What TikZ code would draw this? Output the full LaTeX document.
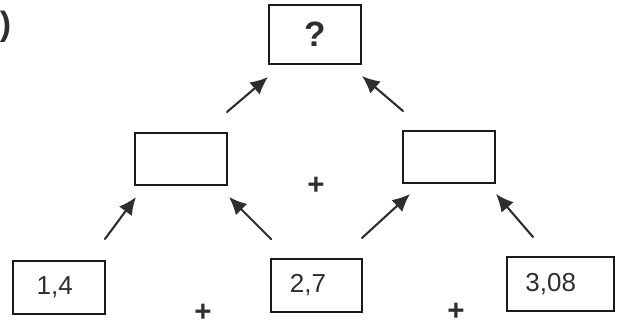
\documentclass[tikz,border=0pt]{standalone}
\usepackage{fontspec}
\setmainfont{Liberation Sans}
\usepackage{tikz}
\usetikzlibrary{arrows.meta,positioning,calc}
\tikzset{
  sumarrow/.style={-{Latex[length=4.4mm,width=4mm]}, line width=1.5pt,
    draw=SumGray, line cap=round},
  plussign/.style={font=\fontsize{21}{23}\selectfont\bfseries, text=SumGray}
}
\definecolor{SumGray}{HTML}{2E2E2E}
\definecolor{SumInk}{HTML}{1A1A1A}

\begin{document}
\begin{tikzpicture}[
  x=0.025cm, y=-0.025cm,
  font=\fontsize{18.5}{20}\selectfont,
  box/.style={draw=SumInk, line width=1.4pt, inner sep=0pt, minimum width=2.3cm, minimum height=1.3cm, text=SumGray}
]
\useasboundingbox (0,0) rectangle (633,327);
\node[anchor=east, font=\fontsize{24}{26}\selectfont\bfseries, text=SumGray] at (16,27) (num) {3)};
\node[box, minimum height=1.475cm, font=\fontsize{25}{27}\selectfont\bfseries] at (315,34.5) (top) {?};
\node[box] at (181,159) (lmid) {};
\node[box] at (449,157) (rmid) {};
\node[box, minimum height=1.325cm] at (59,287.5) (bleft) {\hspace*{-6pt}1,4};
\node[box, minimum height=1.325cm, minimum width=2.275cm] at (316.5,285.5) (bmid) {\hspace*{-12pt}2,7};
\node[box, minimum height=1.35cm, minimum width=2.675cm] at (560.5,284) (bright) {\hspace*{-14pt}3,08};

% Sums: each pair of boxes feeds the box above it
\draw[sumarrow] ([shift={(-1,-20)}]lmid.north east) -- ([shift={(0,12)}]top.south west);
\draw[sumarrow] ([shift={(1,-19)}]rmid.north west) -- ([shift={(0,11)}]top.south east);
\draw[sumarrow] ([shift={(-1,-21)}]bleft.north east) -- ([shift={(2,11)}]lmid.south west);
\draw[sumarrow] ([shift={(1,-19)}]bmid.north west) -- ([shift={(1,11)}]lmid.south east);
\draw[sumarrow] ([shift={(-1,-20)}]bmid.north east) -- ([shift={(8,10)}]rmid.south west);
\draw[sumarrow] ([shift={(27,-19)}]bright.north west) -- ([shift={(0,10)}]rmid.south east);

\node[plussign] at (316,186) (plusmid) {+};
\node[plussign] at (203,313) (plusleft) {+};
\node[plussign] at (456,312) (plusright) {+};
\end{tikzpicture}
\end{document}
